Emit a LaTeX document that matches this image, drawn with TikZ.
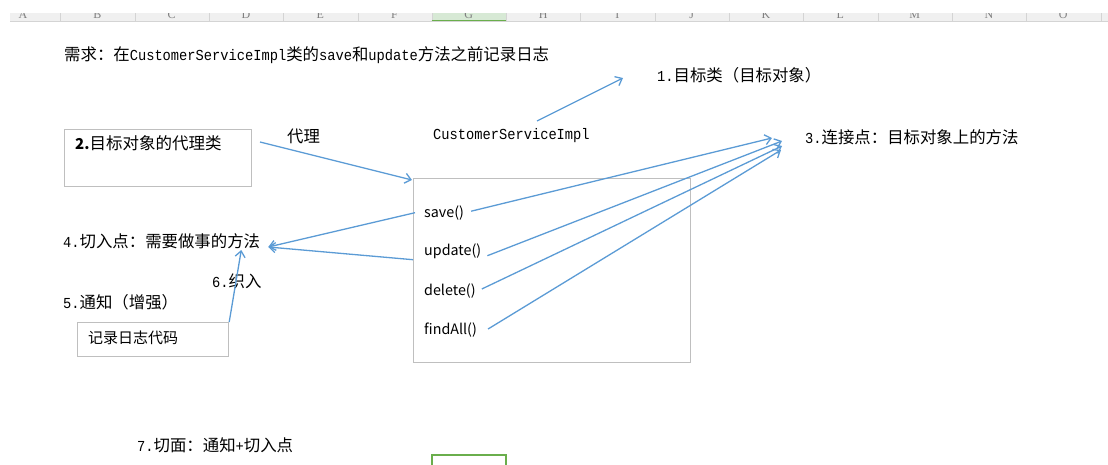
\documentclass[tikz,border=0pt]{standalone}
\usepackage{fontspec}
\setmainfont{Noto Sans CJK SC}
\newfontfamily\cjk{Noto Sans CJK SC}
\newfontfamily\lat[Scale=0.93,FakeStretch=0.9]{Liberation Mono}
\newfontfamily\hdr{Liberation Serif}
\usetikzlibrary{arrows.meta}
\definecolor{arrblue}{HTML}{5B9BD5}
\definecolor{boxgray}{HTML}{BFBFBF}
\definecolor{hdrgray}{HTML}{F0F0F0}
\definecolor{hdrline}{HTML}{D4D4D4}
\definecolor{selgreen}{HTML}{D7E9D5}
\definecolor{xlgreen}{HTML}{6AAE4C}

\begin{document}
\begin{tikzpicture}[x=1pt,y=-1pt,
  song/.style={anchor=west,inner sep=0pt,font=\fontsize{16.4}{18}\selectfont},
  sans/.style={anchor=west,inner sep=0pt,font=\fontsize{14.3}{16}\selectfont},
  arr/.style={draw=arrblue,line width=1.3pt,-{Straight Barb[length=6pt,width=10pt]}},
  frame/.style={draw=boxgray,line width=1.2pt}]
\useasboundingbox (0,0) rectangle (1108,464);
% sheet header
\fill[hdrgray] (10,13) rectangle (1108,21);
\fill[selgreen] (431.5,13) rectangle (506,21);
\foreach \i in {0,...,14} \draw[hdrline] (60.5+74.3*\i,13) -- (60.5+74.3*\i,21);
\draw[hdrline] (10,21) -- (1108,21);
\draw[xlgreen,line width=1.5pt] (431.5,20.5) -- (506,20.5);
\begin{scope}
\clip (0,13) rectangle (1108,21);
\foreach \c [count=\i from 0] in {A,B,C,D,E,F,G,H,I,J,K,L,M,N,O}
  \node[font=\hdr\fontsize{12}{12}\selectfont,text=gray,anchor=base,inner sep=0pt] (col\c) at (23+74.3*\i,18) {\c};
\end{scope}
% texts
\node[song] (need) at (64,55) {\cjk 需求：在\lat CustomerServiceImpl\cjk 类的\lat save\cjk 和\lat update\cjk 方法之前记录日志};
\node[song] (tgtcls) at (657,75) {\lat 1.\cjk 目标类（目标对象）};
\node[song] (impl) at (433,136) {\lat CustomerServiceImpl};
\node[song] (proxy) at (287,136) {\cjk 代理};
\node[song] (join) at (805,137) {\lat 3.\cjk 连接点：目标对象上的方法};
\node[song] (cut) at (63,241) {\lat 4.\cjk 切入点：需要做事的方法};
\node[song] (advice) at (63,302) {\lat 5.\cjk 通知（增强）};
\node[song] (weave) at (212,281) {\lat 6.\cjk 织入};
\node[song] (aspect) at (137,445) {\lat 7.\cjk 切面：通知\lat +\cjk 切入点};
% boxes
\node[frame,anchor=north west,minimum width=187pt,minimum height=57pt] (proxybox) at (64,129) {};
\node[anchor=west,inner sep=0pt,font=\fontsize{16.5}{18}\selectfont] (proxytxt) at (75,143) {\textbf{\fontsize{15}{18}\selectfont 2.}目标对象的代理类};
\node[frame,anchor=north west,minimum width=151pt,minimum height=34pt] (logbox) at (77,322) {};
\node[sans,font=\fontsize{15}{17}\selectfont] (logtxt) at (88,338) {记录日志代码};
\node[frame,anchor=north west,minimum width=277pt,minimum height=184pt] (implbox) at (413,178) {};
\node[sans] (save) at (424,212.7) {save()};
\node[sans] (update) at (424,251.7) {update()};
\node[sans] (delete) at (424,291) {delete()};
\node[sans] (findall) at (424,330) {findAll()};
% selected cell
\draw[xlgreen,line width=2pt] (432,466) -- (432,455) -- (506,455) -- (506,466);
% arrows
\coordinate (tgtfrom) at (537,121);
\coordinate (proxyfrom) at (260,142);
\coordinate (jp1) at (772,138);
\coordinate (jp2) at (782,141);
\coordinate (jp3) at (782,146);
\coordinate (jp4) at (781,150);
\draw[arr] (tgtfrom) -- ([xshift=-34pt,yshift=-3pt]tgtcls.west);
\draw[arr] (proxyfrom) -- ([xshift=-1pt,yshift=-2pt]implbox.north west);
\draw[arr] ([xshift=7pt,yshift=1.5pt]save.east) -- (jp1);
\draw[arr] ([xshift=6pt,yshift=-4pt]update.east) -- (jp2);
\draw[arr] ([xshift=6pt,yshift=2pt]delete.east) -- (jp3);
\draw[arr] ([xshift=11pt,yshift=1pt]findall.east) -- (jp4);
\draw[arr] ([xshift=-9pt]save.west) -- ([xshift=8pt,yshift=-6pt]cut.east);
\draw[arr] ([xshift=-11pt,yshift=-8pt]update.west) -- ([xshift=8pt,yshift=-6pt]cut.east);
\draw[arr] (logbox.north east) -- ([xshift=-19pt,yshift=-9pt]cut.east);
\end{tikzpicture}
\end{document}
